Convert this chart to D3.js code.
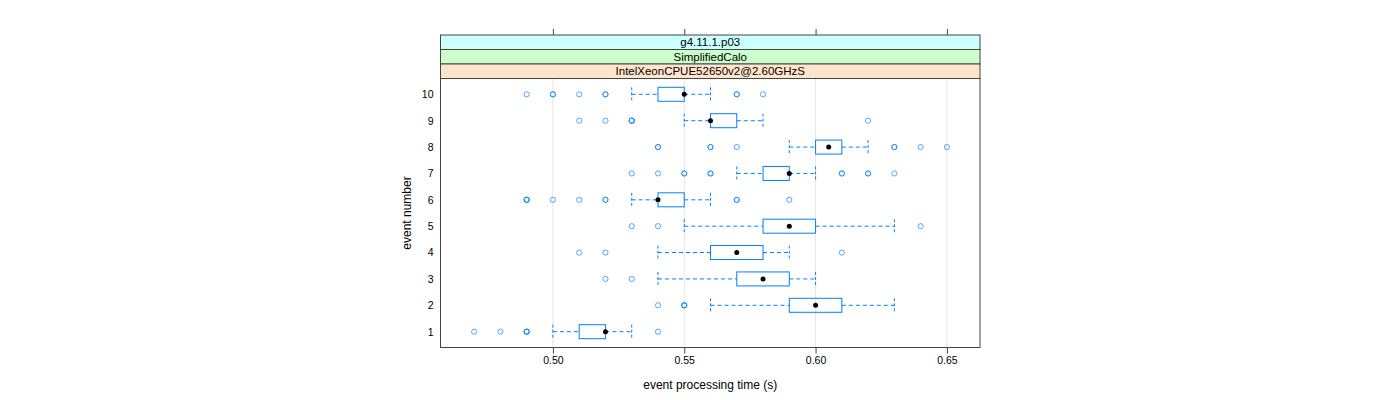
<!DOCTYPE html>
<html>
<head>
<meta charset="utf-8">
<script src="https://cdn.jsdelivr.net/npm/d3@7"></script>
<style>
  body { margin: 0; background: #fff; }
  svg { display: block; font-family: "Liberation Sans", Arial, sans-serif; }
</style>
</head>
<body>
<svg id="chart" width="1400" height="400"></svg>
<script>
// ---- data ----
const events = ["1","2","3","4","5","6","7","8","9","10"];
const whiskerLow  = [0.50, 0.56, 0.54, 0.54, 0.55, 0.53, 0.57, 0.59, 0.55, 0.53];
const q1          = [0.51, 0.59, 0.57, 0.56, 0.58, 0.54, 0.58, 0.60, 0.56, 0.54];
const median      = [0.52, 0.60, 0.58, 0.57, 0.59, 0.54, 0.59, 0.605, 0.56, 0.55];
const q3          = [0.52, 0.61, 0.59, 0.58, 0.60, 0.55, 0.59, 0.61, 0.57, 0.55];
const whiskerHigh = [0.53, 0.63, 0.60, 0.59, 0.63, 0.56, 0.60, 0.62, 0.58, 0.56];
const outliers = [
  [0.47, 0.48, 0.49, 0.49, 0.49, 0.54],
  [0.54, 0.55, 0.55, 0.55],
  [0.52, 0.53],
  [0.51, 0.52, 0.61],
  [0.53, 0.54, 0.64],
  [0.49, 0.49, 0.49, 0.50, 0.51, 0.52, 0.52, 0.57, 0.57, 0.59],
  [0.53, 0.54, 0.55, 0.55, 0.56, 0.56, 0.61, 0.61, 0.62, 0.62, 0.63],
  [0.54, 0.54, 0.56, 0.56, 0.57, 0.63, 0.63, 0.64, 0.65],
  [0.51, 0.52, 0.53, 0.53, 0.53, 0.62],
  [0.49, 0.50, 0.50, 0.51, 0.52, 0.52, 0.57, 0.57, 0.58]
];
const xTicks = [0.50, 0.55, 0.60, 0.65];
const strips = ["g4.11.1.p03", "SimplifiedCalo", "IntelXeonCPUE52650v2@2.60GHzS"];
const stripColors = ["#ccffff", "#ccffcc", "#ffe5cc"];
const xTitle = "event processing time (s)";
const yTitle = "event number";

// ---- layout ----
const svg = d3.select("#chart");
const panel = { left: 440.5, right: 980, top: 78.5, bottom: 347.5 };
const stripH = 14.5;
const stripTop = panel.top - stripH * strips.length;
const blue = "#0080ff";

const x = d3.scaleLinear().domain([0.4572, 0.6626]).range([panel.left, panel.right]);
const y = d3.scaleLinear().domain([0.4, 10.6]).range([panel.bottom, panel.top]);

// grid
svg.append("g").selectAll("line").data(xTicks).join("line")
  .attr("x1", d => x(d)).attr("x2", d => x(d))
  .attr("y1", panel.top).attr("y2", panel.bottom)
  .attr("stroke", "#e6e6e6").attr("stroke-width", 1);

// strips
strips.forEach((s, i) => {
  const y0 = stripTop + i * stripH;
  svg.append("rect").attr("x", panel.left).attr("y", y0)
    .attr("width", panel.right - panel.left).attr("height", stripH)
    .attr("fill", stripColors[i]).attr("stroke", "#444").attr("stroke-width", 1);
  svg.append("text").attr("x", (panel.left + panel.right) / 2).attr("y", y0 + stripH / 2 + 4)
    .attr("text-anchor", "middle").attr("font-size", 11.5).attr("fill", "#000").text(s);
});

// panel border
svg.append("rect").attr("x", panel.left).attr("y", panel.top)
  .attr("width", panel.right - panel.left).attr("height", panel.bottom - panel.top)
  .attr("fill", "none").attr("stroke", "#444").attr("stroke-width", 1);

// bottom axis
const xAxis = d3.axisBottom(x).tickValues(xTicks).tickFormat(d3.format(".2f")).tickSize(6).tickPadding(3);
const gx = svg.append("g").attr("transform", `translate(0,${panel.bottom})`).call(xAxis);
gx.select(".domain").remove();
gx.selectAll("line").attr("stroke", "#444");
gx.selectAll("text").attr("font-size", 10.5).attr("fill", "#000").attr("font-family", "Liberation Sans, Arial, sans-serif");

// top axis ticks (no labels)
const xAxisTop = d3.axisTop(x).tickValues(xTicks).tickFormat("").tickSize(6);
const gt = svg.append("g").attr("transform", `translate(0,${stripTop})`).call(xAxisTop);
gt.select(".domain").remove();
gt.selectAll("line").attr("stroke", "#444");

// left labels
const yAxis = d3.axisLeft(y).tickValues(events.map(Number)).tickFormat((d, i) => events[i]).tickSize(0).tickPadding(7);
const gy = svg.append("g").attr("transform", `translate(${panel.left},0)`).call(yAxis);
gy.select(".domain").remove();
gy.selectAll("text").attr("font-size", 10.5).attr("fill", "#000").attr("font-family", "Liberation Sans, Arial, sans-serif");

// titles
svg.append("text").attr("x", (panel.left + panel.right) / 2).attr("y", 389)
  .attr("text-anchor", "middle").attr("font-size", 12).text(xTitle);
svg.append("text").attr("transform", `translate(411,${(panel.top + panel.bottom) / 2}) rotate(-90)`)
  .attr("text-anchor", "middle").attr("font-size", 12).text(yTitle);

// boxes
const boxH = 14;
const g = svg.append("g");
events.forEach((e, i) => {
  const cy = y(+e);
  const dash = "4,3";
  // whiskers
  g.append("line").attr("x1", x(whiskerLow[i])).attr("x2", x(q1[i])).attr("y1", cy).attr("y2", cy)
    .attr("stroke", blue).attr("stroke-dasharray", dash);
  g.append("line").attr("x1", x(q3[i])).attr("x2", x(whiskerHigh[i])).attr("y1", cy).attr("y2", cy)
    .attr("stroke", blue).attr("stroke-dasharray", dash);
  [whiskerLow[i], whiskerHigh[i]].forEach(v => {
    g.append("line").attr("x1", x(v)).attr("x2", x(v)).attr("y1", cy - boxH / 2).attr("y2", cy + boxH / 2)
      .attr("stroke", blue).attr("stroke-dasharray", "3,2");
  });
  // box
  g.append("rect").attr("x", x(q1[i])).attr("y", cy - boxH / 2)
    .attr("width", Math.max(0, x(q3[i]) - x(q1[i]))).attr("height", boxH)
    .attr("fill", "none").attr("stroke", blue).attr("stroke-width", 1);
  // outliers
  g.append("g").selectAll("circle").data(outliers[i]).join("circle")
    .attr("cx", d => x(d)).attr("cy", cy).attr("r", 2.6)
    .attr("fill", "none").attr("stroke", blue).attr("stroke-width", 0.9).attr("stroke-opacity", 0.75);
  // median dot
  g.append("circle").attr("cx", x(median[i])).attr("cy", cy).attr("r", 2.5).attr("fill", "#000");
});
</script>
</body>
</html>
